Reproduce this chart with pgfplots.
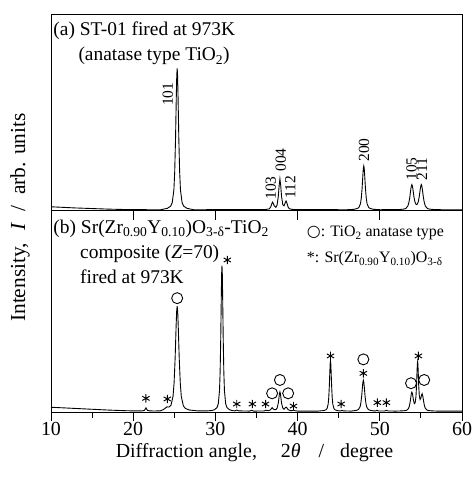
\documentclass[border=0pt]{standalone}
\usepackage{fontspec}
\setmainfont{Liberation Serif}
\newfontfamily\symfont{DejaVu Sans}
\usepackage{pgfplots}
\pgfplotsset{compat=1.18}

\newcommand\labf{\fontsize{20}{23}\selectfont}
\newcommand\ylabf{\fontsize{21.5}{25}\selectfont}
\newcommand\txtf{\fontsize{19.5}{23}\selectfont}
\newcommand\hklf{\fontsize{15.5}{18}\selectfont}
\newcommand\legf{\fontsize{16}{19}\selectfont}

% (a) ST-01 anatase powder fired at 973 K
\pgfplotstableread{
x y
10 1.9
11 1.7
12 1.5
13 1.3
14 1.15
15 1.0
16 0.85
17 0.7
18 0.6
19 0.5
20 0.45
22 0.4
23.35 0.4
24.15 1.1
24.55 2.2
24.75 4.0
24.95 10.5
25.05 19.9
25.15 36.6
25.20 48.1
25.25 59.7
25.30 69.1
25.35 72.7
25.40 69.1
25.45 59.7
25.50 48.1
25.55 36.6
25.65 19.9
25.75 10.5
25.95 4.0
26.15 2.2
26.55 1.1
27.35 0.4
36.0 0.45
36.55 0.8
36.75 2.0
36.85 3.35
36.95 4.25
37.05 3.55
37.15 2.4
37.35 1.6
37.5 2.7
37.65 7.1
37.75 12.5
37.85 16.2
37.95 12.6
38.05 7.1
38.2 2.9
38.35 2.4
38.5 4.0
38.6 4.85
38.7 3.85
38.85 1.7
39.0 0.9
39.3 0.6
39.8 0.45
46.05 0.4
46.85 0.6
47.25 1.0
47.45 1.5
47.65 3.5
47.75 6.4
47.85 11.6
47.90 15.2
47.95 18.8
48.00 21.7
48.05 22.8
48.10 21.7
48.15 18.8
48.20 15.2
48.25 11.6
48.35 6.4
48.45 3.5
48.65 1.5
48.85 1.0
49.25 0.6
50.05 0.4
52.4 0.5
52.9 0.7
53.15 1.0
53.4 2.2
53.525 3.8
53.65 6.7
53.71 8.9
53.775 10.9
53.84 12.6
53.90 13.25
53.96 12.6
54.025 11.0
54.09 9.05
54.15 7.1
54.275 4.4
54.4 3.2
54.475 3.0
54.55 3.2
54.675 4.4
54.8 7.1
54.86 9.05
54.925 11.0
54.99 12.6
55.05 13.25
55.11 12.6
55.175 10.85
55.24 8.8
55.30 6.8
55.425 3.85
55.55 2.2
55.8 1.0
56.05 0.7
56.55 0.5
57.5 0.4
60 0.4
}\tioa

% (b) Sr(Zr0.90Y0.10)O3-d / TiO2 composite fired at 973 K
\pgfplotstableread{
x y
10 2.6
11 2.4
12 2.2
13 2.0
14 1.8
15 1.6
16 1.4
17 1.2
18 1.05
19 0.9
20 0.8
21.1 0.8
21.35 1.0
21.45 1.6
21.55 2.3
21.65 1.6
21.75 1.0
22.0 0.8
22.5 0.75
23.3 0.8
23.6 1.3
23.85 1.95
24.1 2.8
24.35 2.7
24.6 3.6
24.85 8.1
24.975 14.7
25.1 26.7
25.1625 35.0
25.225 43.3
25.2875 50.1
25.35 52.7
25.4125 50.1
25.475 43.3
25.5375 35.0
25.6 26.7
25.725 14.7
25.85 8.0
26.1 3.3
26.35 2.0
26.85 1.2
27.85 0.8
29.0 0.8
29.6 1.0
29.9 1.4
30.2 2.5
30.35 4.3
30.5 10.8
30.575 20.1
30.65 36.7
30.6875 48.2
30.725 59.7
30.7625 69.1
30.8 72.7
30.8375 69.1
30.875 59.7
30.9125 48.2
30.95 36.7
31.025 20.1
31.1 10.8
31.25 4.3
31.4 2.5
31.7 1.4
32.0 1.0
32.35 0.8
32.6 1.2
32.85 0.8
34.15 0.7
34.4 1.1
34.65 0.7
35.9 0.75
36.2 1.1
36.45 0.9
36.7 1.3
36.8 1.9
36.9 2.4
37.0 1.9
37.15 1.4
37.35 1.4
37.5 2.1
37.65 4.6
37.72 6.9
37.79 9.3
37.85 10.2
37.91 9.3
37.98 6.9
38.05 4.6
38.2 2.2
38.35 1.6
38.5 2.35
38.6 2.65
38.7 2.3
38.85 1.4
39.1 0.9
39.35 0.9
39.5 1.2
39.65 0.9
40.0 0.7
42.5 0.7
43.16 0.95
43.44 1.3
43.58 1.95
43.72 4.2
43.79 7.4
43.86 13.1
43.895 17.1
43.93 21.0
43.965 24.3
44.0 25.5
44.035 24.3
44.07 21.0
44.105 17.1
44.14 13.1
44.21 7.4
44.28 4.2
44.42 1.95
44.56 1.3
44.84 0.95
45.15 0.75
45.25 0.8
45.4 1.1
45.55 0.8
46.5 0.7
46.8 0.85
47.2 1.1
47.4 1.5
47.6 2.8
47.7 4.8
47.8 8.35
47.85 10.8
47.9 13.2
47.95 15.2
48.0 16.0
48.05 15.2
48.1 13.2
48.15 10.8
48.2 8.35
48.3 4.8
48.4 2.8
48.6 1.5
48.8 1.1
49.2 0.85
49.45 0.75
49.65 1.1
49.85 0.75
50.6 0.75
50.8 1.1
51.0 0.75
52.0 0.7
52.7 0.8
53.1 0.93
53.3 1.15
53.5 2.05
53.6 3.25
53.7 5.4
53.75 6.8
53.8 8.3
53.85 9.5
53.9 10.1
53.95 9.7
54.0 8.7
54.05 7.3
54.1 6.0
54.2 4.4
54.3 4.75
54.4 7.9
54.47 13.3
54.5 16.9
54.535 20.9
54.57 24.0
54.6 25.1
54.63 24.0
54.665 21.1
54.7 17.2
54.73 13.7
54.8 8.6
54.9 6.45
55.0 7.2
55.075 8.6
55.15 9.3
55.225 8.2
55.3 6.35
55.35 5.0
55.45 3.1
55.55 2.0
55.75 1.2
55.95 0.95
56.35 0.8
57.0 0.7
60 0.7
}\compb

% anatase reflections in the composite
\pgfplotstableread{
x y
25.35 56.6
36.9 9.5
37.85 16.1
38.85 9.5
48.0 26.3
53.8 14.5
55.4 16.1
}\anamarks

% perovskite reflections in the composite
\pgfplotstableread{
x y
21.55 7.0
24.15 6.7
31.45 75.5
32.6 4.2
34.5 4.2
36.1 4.2
39.5 3.2
44.0 28.0
45.3 4.2
48.0 19.4
49.7 4.9
50.8 4.9
54.7 28.0
}\perovmarks

\begin{document}
\begin{tikzpicture}
\path[use as bounding box] (-51bp,-66.5bp) rectangle (425bp,412.5bp);

\pgfplotsset{
  panel/.style={
    scale only axis, width=411bp,
    xmin=10, xmax=60, ymin=0, ymax=100,
    ytick=\empty,
    axis line style={line width=1pt},
    tick style={black, line width=0.9pt},
  },
  trace/.style={black, line width=0.9pt, no markers},
}

% lower panel (b)
\begin{axis}[panel, height=202bp, at={(0,0)}, anchor=south west,
  xtick={10,20,...,60}, minor xtick={15,25,...,55},
  xtick pos=bottom, tick align=outside,
  major tick length=8bp, minor tick length=5bp,
  xticklabel style={font=\labf, inner sep=1bp, yshift=-1bp},
  /pgf/number format/assume math mode=true,
  clip=false]
  \addplot[trace] table {\compb};
  \addplot[only marks, mark=o, mark size=5.5bp, mark options={line width=0.9pt}] table {\anamarks};
  \addplot[only marks, mark=asterisk, mark size=4.2bp, mark options={line width=0.95pt}] table {\perovmarks};

  \node[anchor=base west, inner sep=0, font=\txtf, xshift=2.3bp] at (rel axis cs:0,0.887)
    {(b) Sr(Zr\textsubscript{0.90}Y\textsubscript{0.10})O\textsubscript{3-δ}-TiO\textsubscript{2}};
  \node[anchor=base west, inner sep=0, font=\txtf, xshift=29bp] at (rel axis cs:0,0.763)
    {composite (\textit{Z}=70)};
  \node[anchor=base west, inner sep=0, font=\txtf, xshift=29bp] at (rel axis cs:0,0.64)
    {fired at 973K};
  \node[anchor=base west, inner sep=0, font=\legf] at (axis cs:41.1,87.0)
    {{\symfont ○}: TiO\textsubscript{2} anatase type};
  \node[anchor=base west, inner sep=0, font=\legf] at (axis cs:41.1,74.2)
    {*: Sr(Zr\textsubscript{0.90}Y\textsubscript{0.10})O\textsubscript{3-δ}};
\end{axis}

% inward ticks on the top edge of panel (b)
\begin{axis}[panel, height=202bp, at={(0,0)}, anchor=south west,
  axis x line*=top, axis y line=none,
  xtick={20,30,40,50}, xticklabels={},
  tick align=inside, major tick length=10bp]
\end{axis}

% upper panel (a)
\begin{axis}[panel, height=195.5bp, at={(0,202bp)}, anchor=south west,
  xtick=\empty, clip=false]
  \addplot[trace] table {\tioa};

  \node[anchor=base west, inner sep=0, font=\txtf, xshift=2.3bp] at (rel axis cs:0,0.896)
    {(a) ST-01 fired at 973K};
  \node[anchor=base west, inner sep=0, font=\txtf, xshift=27.3bp] at (rel axis cs:0,0.765)
    {(anatase type TiO\textsubscript{2})};

  \node[rotate=90, font=\hklf, inner sep=0] at (axis cs:24.2,59.5) {101};
  \node[rotate=90, font=\hklf, inner sep=0] at (axis cs:36.75,11.5) {103};
  \node[rotate=90, font=\hklf, inner sep=0] at (axis cs:37.95,25.8) {004};
  \node[rotate=90, font=\hklf, inner sep=0] at (axis cs:39.1,11.8) {112};
  \node[rotate=90, font=\hklf, inner sep=0] at (axis cs:48.1,30.9) {200};
  \node[rotate=90, font=\hklf, inner sep=0] at (axis cs:53.85,21.2) {105};
  \node[rotate=90, font=\hklf, inner sep=0] at (axis cs:55.15,21.2) {211};
\end{axis}

% shared axis titles
\node[rotate=90, font=\ylabf, anchor=center, inner sep=0] at (-31bp,195bp)
  {Intensity,\hspace{0.6em}\textit{I}\hspace{0.5em}/\hspace{0.5em}arb. units};
\node[font=\labf, anchor=base, inner sep=0] at (203.5bp,-45bp)
  {Diffraction angle,\hspace{1.2em}2\textit{θ}\hspace{0.9em}/\hspace{0.8em}degree};
\end{tikzpicture}
\end{document}
